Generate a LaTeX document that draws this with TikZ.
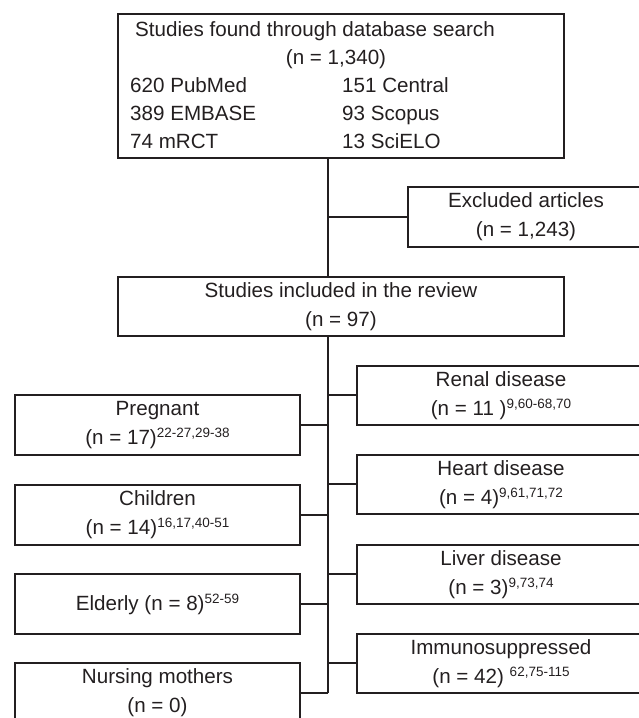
\documentclass[tikz,border=0pt]{standalone}
\usepackage{fontspec}
\setmainfont{Liberation Sans}
\definecolor{ink}{HTML}{231F20}
\newcommand\refs[1]{\raisebox{7pt}{\fontsize{13.5}{14}\selectfont #1}}
\begin{document}
\begin{tikzpicture}[x=1pt,y=1pt,
  mainfont/.style={font=\fontsize{20.6}{29}\selectfont},
  box/.style={draw=ink, line width=2pt, rectangle, inner sep=0pt, anchor=north west,
              align=center, text=ink, mainfont},
  lbox/.style={box, minimum width=285pt, minimum height=60pt},
  rbox/.style={box, minimum width=288pt, minimum height=59pt},
  txt/.style={inner sep=0pt, anchor=base, text=ink, mainfont},
  conn/.style={line width=2pt, draw=ink}]
\useasboundingbox (0,0) rectangle (639,718);
\clip (0,0) rectangle (639,718);
\coordinate (spine) at (328,0);

% search box
\node[box, minimum width=446pt, minimum height=144pt] (search) at (117,705) {};
\node[txt] (s1) at (315,681) {Studies found through database search};
\node[txt] (s2) at (336,653) {(n = 1,340)};
\node[txt, anchor=base west] (s3) at (130,625) {620 PubMed};
\node[txt, anchor=base west] (s4) at (342,625) {151 Central};
\node[txt, anchor=base west] (s5) at (130,597) {389 EMBASE};
\node[txt, anchor=base west] (s6) at (342,597) {93 Scopus};
\node[txt, anchor=base west] (s7) at (130,569) {74 mRCT};
\node[txt, anchor=base west] (s8) at (342,569) {13 SciELO};

% excluded
\node[box, minimum width=236pt, minimum height=60pt] (excl) at (407,532) {Excluded articles\\(n = 1,243)};

% included
\node[box, minimum width=446pt, minimum height=59pt] (incl) at (117,442) {Studies included in the review\\(n = 97)};

% right boxes
\node[rbox] (renal) at (356,353) {Renal disease\\(n = 11 )\refs{9,60-68,70}};
\node[rbox] (heart) at (356,264) {Heart disease\\(n = 4)\refs{9,61,71,72}};
\node[rbox] (liver) at (356,174) {Liver disease\\(n = 3)\refs{9,73,74}};
\node[rbox] (immuno) at (356,85) {Immunosuppressed\\(n = 42) \refs{62,75-115}};

% left boxes
\node[lbox] (preg) at (14,324) {Pregnant\\(n = 17)\refs{22-27,29-38}};
\node[lbox] (child) at (14,234) {Children\\(n = 14)\refs{16,17,40-51}};
\node[lbox] (elder) at (14,145) {Elderly (n = 8)\refs{52-59}};
\node[lbox] (nurse) at (14,56) {Nursing mothers\\(n = 0)};

% connectors
\draw[conn] (search.south -| spine) -- (incl.north -| spine);
\draw[conn] (spine |- excl.west) -- (excl.west);
\draw[conn] (incl.south -| spine) -- (spine |- nurse.east);
\draw[conn] (spine |- renal.west) -- (renal.west);
\draw[conn] (spine |- heart.west) -- (heart.west);
\draw[conn] (spine |- liver.west) -- (liver.west);
\draw[conn] (spine |- immuno.west) -- (immuno.west);
\draw[conn] (spine |- preg.east) -- (preg.east);
\draw[conn] (spine |- child.east) -- (child.east);
\draw[conn] (spine |- elder.east) -- (elder.east);
\draw[conn] (spine |- nurse.east) -- (nurse.east);
\end{tikzpicture}
\end{document}
